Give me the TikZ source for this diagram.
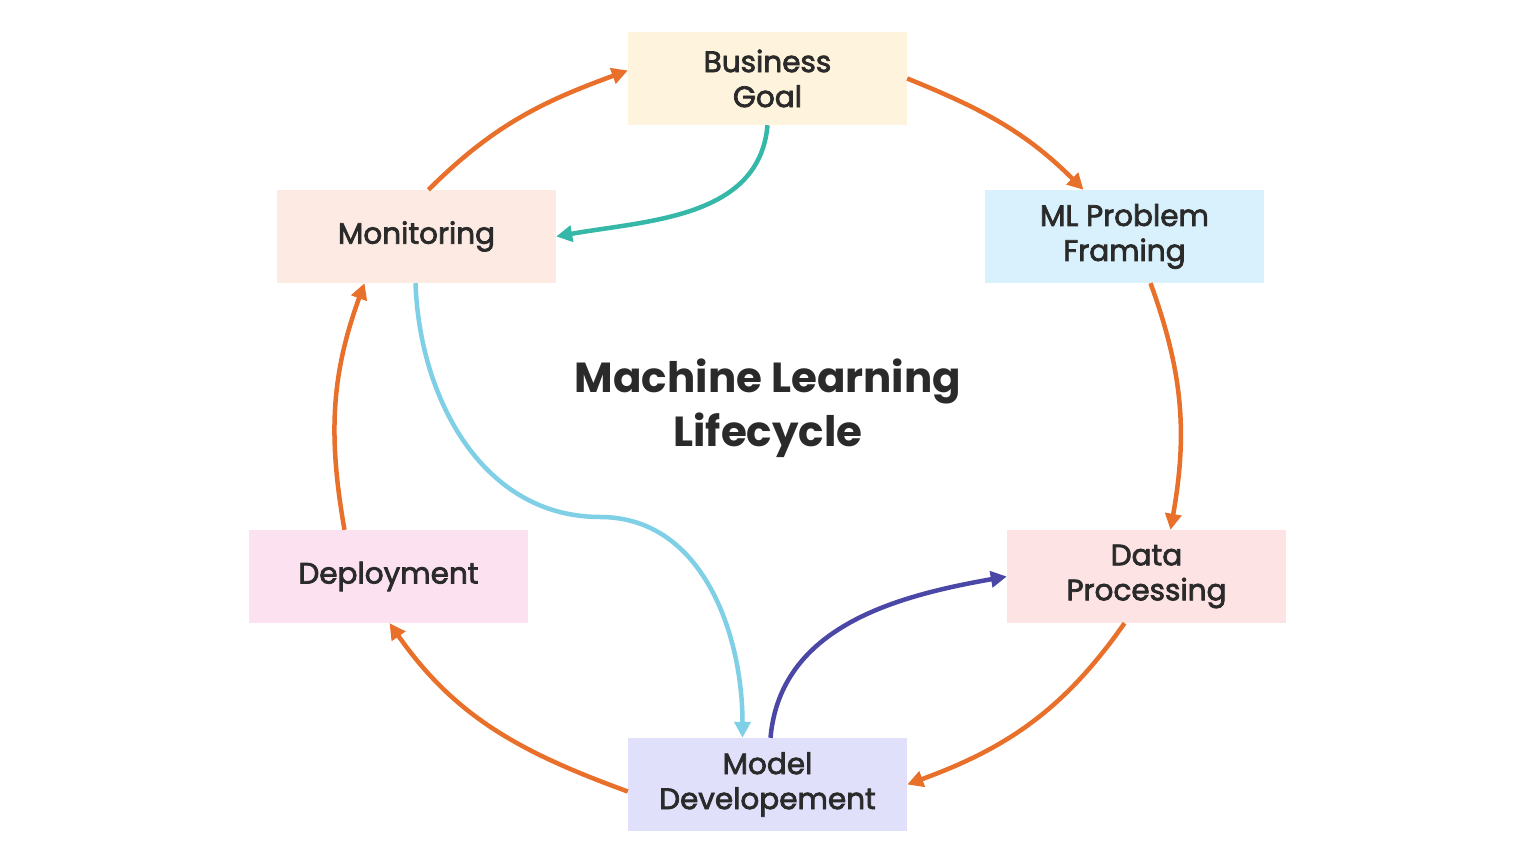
\documentclass[tikz,border=0pt]{standalone}
\usepackage{fontspec}
\setmainfont{Poppins}
\newfontfamily\stagefont[FakeBold=2.5]{Poppins}
\usetikzlibrary{arrows.meta,calc}

\definecolor{arrowOrange}{HTML}{E8702A}
\definecolor{arrowTeal}{HTML}{35B8A8}
\definecolor{arrowSky}{HTML}{7FCFE6}
\definecolor{arrowIndigo}{HTML}{4B47A6}
\definecolor{fillGoal}{HTML}{FEF3DD}
\definecolor{fillFraming}{HTML}{D8F1FC}
\definecolor{fillMonitor}{HTML}{FDEBE3}
\definecolor{fillDeploy}{HTML}{FCE1F1}
\definecolor{fillData}{HTML}{FDE3E3}
\definecolor{fillModel}{HTML}{E0E0FB}
\definecolor{textDark}{HTML}{2A2A2A}

\tikzset{
  stage/.style={minimum width=279pt, minimum height=93pt, inner sep=0pt, align=center,
    text=textDark, font=\stagefont\fontsize{29.5}{35}\selectfont},
  flow/.style={line width=4.5pt, -{Triangle[length=16pt,width=16pt]}},
}

\begin{document}
\begin{tikzpicture}[x=1pt,y=1pt]
  \fill[white] (0,0) rectangle (1536,864);
  \useasboundingbox (0,0) rectangle (1536,864);

  % stages
  \node [stage, fill=fillGoal] (Goal) at (767.5, 785.5) {Business\\Goal};%
  \node [stage, fill=fillFraming] (Framing) at (1124.5, 627.5) {ML Problem\\Framing};%
  \node [stage, fill=fillMonitor] (Monitor) at (416.5, 627.5) {Monitoring};%
  \node [stage, fill=fillDeploy] (Deploy) at (388.5, 287.5) {Deployment};%
  \node [stage, fill=fillData] (Data) at (1146.5, 287.5) {Data\\Processing};%
  \node [stage, fill=fillModel] (Model) at (767.5, 79.5) {Model\\Developement};%
  \node [text=textDark, align=center, font=\fontsize{42}{54}\selectfont\bfseries] (Title) at (768, 456) {Machine Learning\\Lifecycle};%
  \coordinate (Dip) at (600, 347);

  % outer cycle
  \draw[flow, arrowOrange] (Goal.east) to[out=-22, in=135] ($(Framing.north)+(-41,0)$);
  \draw[flow, arrowOrange] ($(Framing.south)+(26,0)$) to[out=-70, in=80] ($(Data.north)+(24,0)$);
  \draw[flow, arrowOrange] ($(Data.south)+(-22,0)$) to[out=-125, in=20] (Model.east);
  \draw[flow, arrowOrange] ($(Model.west)+(0,-7)$) to[out=160, in=-55] ($(Deploy.south)+(1,0)$);
  \draw[flow, arrowOrange] ($(Deploy.north)+(-44,0)$) to[out=100, in=-110] ($(Monitor.south)+(-52,0)$);
  \draw[flow, arrowOrange] ($(Monitor.north)+(12,0)$) to[out=45, in=200] ($(Goal.west)+(0,8)$);

  % feedback links
  \draw[flow, arrowTeal] (Goal.south) to[out=-95, in=10] (Monitor.east);
  \draw[flow, arrowSky] ($(Monitor.south)+(-1,0)$) to[out=-88, in=180] (Dip) to[out=0, in=90] ($(Model.north)+(-25,0)$);
  \draw[flow, arrowIndigo] ($(Model.north)+(3,0)$) to[out=85, in=190] (Data.west);
\end{tikzpicture}
\end{document}
